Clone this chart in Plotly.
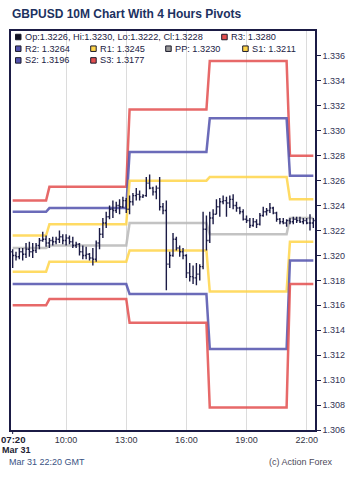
import plotly.graph_objects as go
import pandas as pd

# ---------------- data ----------------
bar_times = pd.date_range("2016-03-31 07:20", "2016-03-31 22:20", freq="10min")

opens = [1.3203, 1.3200, 1.3199, 1.3203, 1.3201, 1.3205, 1.3203, 1.3204, 1.3208, 1.3212,
         1.3213, 1.3210, 1.3212, 1.3211, 1.3213, 1.3215, 1.3212, 1.3214, 1.3211, 1.3208,
         1.3209, 1.3203, 1.3200, 1.3201, 1.3198, 1.3197, 1.3210, 1.3217, 1.3226, 1.3231,
         1.3237, 1.3236, 1.3240, 1.3239, 1.3244, 1.3237, 1.3243, 1.3248, 1.3249, 1.3247,
         1.3248, 1.3258, 1.3254, 1.3251, 1.3254, 1.3239, 1.3236, 1.3193, 1.3200, 1.3213,
         1.3206, 1.3203, 1.3200, 1.3186, 1.3183, 1.3182, 1.3185, 1.3191, 1.3221, 1.3212,
         1.3230, 1.3233, 1.3239, 1.3243, 1.3244, 1.3242, 1.3245, 1.3240, 1.3238, 1.3235,
         1.3229, 1.3228, 1.3224, 1.3227, 1.3225, 1.3232, 1.3235, 1.3236, 1.3238, 1.3234,
         1.3229, 1.3227, 1.3226, 1.3228, 1.3227, 1.3229, 1.3228, 1.3227, 1.3228, 1.3226,
         1.3226]
highs = [1.3205, 1.3203, 1.3206, 1.3206, 1.3210, 1.3211, 1.3210, 1.3210, 1.3214, 1.3219,
         1.3216, 1.3214, 1.3215, 1.3215, 1.3220, 1.3217, 1.3217, 1.3216, 1.3215, 1.3211,
         1.3210, 1.3208, 1.3207, 1.3202, 1.3206, 1.3212, 1.3222, 1.3230, 1.3235, 1.3240,
         1.3244, 1.3243, 1.3245, 1.3247, 1.3246, 1.3248, 1.3250, 1.3254, 1.3252, 1.3249,
         1.3263, 1.3265, 1.3255, 1.3256, 1.3263, 1.3242, 1.3244, 1.3203, 1.3218, 1.3215,
         1.3208, 1.3206, 1.3201, 1.3194, 1.3192, 1.3194, 1.3193, 1.3235, 1.3232, 1.3235,
         1.3237, 1.3245, 1.3246, 1.3248, 1.3247, 1.3248, 1.3249, 1.3243, 1.3239, 1.3237,
         1.3232, 1.3230, 1.3230, 1.3229, 1.3234, 1.3239, 1.3238, 1.3242, 1.3239, 1.3235,
         1.3230, 1.3230, 1.3229, 1.3230, 1.3231, 1.3231, 1.3231, 1.3230, 1.3230, 1.3233,
         1.3230]
lows = [1.3190, 1.3196, 1.3197, 1.3196, 1.3198, 1.3199, 1.3198, 1.3202, 1.3205, 1.3211,
        1.3207, 1.3206, 1.3208, 1.3209, 1.3210, 1.3209, 1.3208, 1.3209, 1.3206, 1.3206,
        1.3200, 1.3197, 1.3197, 1.3196, 1.3192, 1.3195, 1.3205, 1.3214, 1.3222, 1.3229,
        1.3230, 1.3234, 1.3233, 1.3238, 1.3234, 1.3233, 1.3240, 1.3244, 1.3244, 1.3246,
        1.3247, 1.3253, 1.3248, 1.3245, 1.3236, 1.3233, 1.3172, 1.3190, 1.3199, 1.3204,
        1.3199, 1.3197, 1.3182, 1.3179, 1.3177, 1.3176, 1.3180, 1.3189, 1.3204, 1.3210,
        1.3225, 1.3233, 1.3231, 1.3241, 1.3231, 1.3238, 1.3237, 1.3235, 1.3233, 1.3228,
        1.3226, 1.3222, 1.3223, 1.3222, 1.3224, 1.3231, 1.3232, 1.3234, 1.3233, 1.3227,
        1.3225, 1.3225, 1.3223, 1.3225, 1.3225, 1.3226, 1.3226, 1.3225, 1.3225, 1.3220,
        1.3222]
closes = [1.3200, 1.3199, 1.3203, 1.3201, 1.3205, 1.3203, 1.3204, 1.3208, 1.3212, 1.3213,
          1.3210, 1.3212, 1.3211, 1.3213, 1.3215, 1.3212, 1.3214, 1.3211, 1.3208, 1.3209,
          1.3203, 1.3200, 1.3201, 1.3198, 1.3197, 1.3210, 1.3217, 1.3226, 1.3231, 1.3237,
          1.3236, 1.3240, 1.3239, 1.3244, 1.3237, 1.3243, 1.3248, 1.3249, 1.3247, 1.3248,
          1.3258, 1.3254, 1.3251, 1.3254, 1.3239, 1.3236, 1.3193, 1.3200, 1.3213, 1.3206,
          1.3203, 1.3200, 1.3186, 1.3183, 1.3182, 1.3185, 1.3191, 1.3221, 1.3212, 1.3230,
          1.3233, 1.3239, 1.3243, 1.3244, 1.3242, 1.3245, 1.3240, 1.3238, 1.3235, 1.3229,
          1.3228, 1.3224, 1.3227, 1.3225, 1.3232, 1.3235, 1.3236, 1.3238, 1.3234, 1.3229,
          1.3227, 1.3226, 1.3228, 1.3227, 1.3229, 1.3228, 1.3227, 1.3228, 1.3226, 1.3226,
          1.3228]

# 4-hour pivot periods (first bar carrying the new level)
period_starts = ["2016-03-31 07:20", "2016-03-31 09:10", "2016-03-31 13:10",
                 "2016-03-31 17:10", "2016-03-31 21:10"]
pivot_r3 = [1.3244, 1.3255, 1.3317, 1.3356, 1.3280]
pivot_r2 = [1.3235, 1.3238, 1.3283, 1.3310, 1.3264]
pivot_r1 = [1.3216, 1.3225, 1.3260, 1.3263, 1.3245]
pivot_pp = [1.3206, 1.3208, 1.3226, 1.3217, 1.3230]
pivot_s1 = [1.3187, 1.3195, 1.3204, 1.3171, 1.3211]
pivot_s2 = [1.3177, 1.3177, 1.3169, 1.3125, 1.3196]
pivot_s3 = [1.3160, 1.3165, 1.3146, 1.3078, 1.3177]

y_tick_vals = [1.306, 1.308, 1.310, 1.312, 1.314, 1.316, 1.318, 1.320,
               1.322, 1.324, 1.326, 1.328, 1.330, 1.332, 1.334, 1.336]
x_tick_vals = ["2016-03-31 10:00", "2016-03-31 13:00", "2016-03-31 16:00",
               "2016-03-31 19:00", "2016-03-31 22:00"]
x_tick_text = ["10:00", "13:00", "16:00", "19:00", "22:00"]

# ---------------- helpers ----------------
starts = pd.to_datetime(period_starts)


def expand(levels):
    out = []
    for t in bar_times:
        k = sum(1 for s in starts if s <= t) - 1
        out.append(levels[k])
    return out


FONT = "Liberation Sans, Arial, sans-serif"
NAVY = "#1b1b45"
RED = "#e34f4f"
BLUE = "#5252ad"
YEL = "#ffd54a"
GRAY = "#b9b9b9"

L_PX, R_PX, T_PX, B_PX = 11, 315, 31, 430
X_RANGE = ["2016-03-31 07:15", "2016-03-31 22:25"]
Y_RANGE = [1.306, 1.338]


def px_x(p):
    return (p - L_PX) / (R_PX - L_PX)


def px_y(p):
    return (B_PX - p) / (B_PX - T_PX)


fig = go.Figure()

for levels, col in [(pivot_r3, RED), (pivot_r2, BLUE), (pivot_r1, YEL), (pivot_pp, GRAY),
                    (pivot_s1, YEL), (pivot_s2, BLUE), (pivot_s3, RED)]:
    fig.add_trace(go.Scatter(x=bar_times, y=expand(levels), mode="lines",
                             line=dict(color=col, width=2.5), opacity=0.85,
                             hoverinfo="skip", showlegend=False))

# price bars on an overlaid (identical) axis pair so they sit above the pivot lines
fig.add_trace(go.Ohlc(x=bar_times, open=opens, high=highs, low=lows, close=closes,
                      xaxis="x2", yaxis="y2",
                      increasing=dict(line=dict(color=NAVY, width=1.4)),
                      decreasing=dict(line=dict(color=NAVY, width=1.4)),
                      tickwidth=0.4, showlegend=False))

fig.update_layout(
    width=350, height=481,
    margin=dict(l=L_PX, r=350 - R_PX, t=T_PX, b=481 - B_PX, pad=0),
    paper_bgcolor="white", plot_bgcolor="white",
    showlegend=False,
    font=dict(family=FONT, size=9, color="#333344"),
    xaxis=dict(type="date", range=X_RANGE,
               rangeslider=dict(visible=False),
               tickvals=x_tick_vals, ticktext=x_tick_text,
               showgrid=True, gridcolor="#dcdcdc", gridwidth=1,
               showline=True, linecolor=NAVY, linewidth=1.5, mirror=True,
               ticks="", zeroline=False, automargin=False,
               tickfont=dict(size=9, color="#333344")),
    yaxis=dict(side="right", range=Y_RANGE, tickvals=y_tick_vals,
               tickformat=".3f", showgrid=False, zeroline=False,
               showline=True, linecolor=NAVY, linewidth=1.5, mirror=True,
               ticks="outside", ticklen=4, tickcolor=NAVY, tickwidth=1,
               automargin=False, tickfont=dict(size=9, color="#333355")),
    xaxis2=dict(type="date", range=X_RANGE, overlaying="x", matches="x",
                rangeslider=dict(visible=False), visible=False, showgrid=False),
    yaxis2=dict(range=Y_RANGE, overlaying="y", visible=False, showgrid=False,
                zeroline=False),
)

ann = []
# title
ann.append(dict(text="<b>GBPUSD 10M Chart With 4 Hours Pivots</b>", x=px_x(10), y=px_y(14),
                xref="paper", yref="paper", xanchor="left", yanchor="middle",
                showarrow=False, font=dict(family=FONT, size=12, color="#20315f")))

# legend rows (text + squares)
ohlc_text = "Op:%.4f, Hi:%.4f, Lo:%.4f, Cl:%.4f" % (opens[-1], highs[-1], lows[-1], closes[-1])
legend_items = [
    (15.5, 37, "#111122", ohlc_text),
    (221.7, 37, RED, "R3: %.4f" % pivot_r3[-1]),
    (15.5, 48.7, BLUE, "R2: %.4f" % pivot_r2[-1]),
    (90.7, 48.7, YEL, "R1: %.4f" % pivot_r1[-1]),
    (165.7, 48.7, "#999999", "PP: %.4f" % pivot_pp[-1]),
    (242.7, 48.7, YEL, "S1: %.4f" % pivot_s1[-1]),
    (15.5, 60.4, BLUE, "S2: %.4f" % pivot_s2[-1]),
    (90.7, 60.4, RED, "S3: %.4f" % pivot_s3[-1]),
]
shapes = []
for sx, sy, col, txt in legend_items:
    shapes.append(dict(type="rect", xref="paper", yref="paper",
                       x0=px_x(sx), x1=px_x(sx + 5.5), y0=px_y(sy + 2.75), y1=px_y(sy - 2.75),
                       fillcolor=col, line=dict(color="#1a1a2a", width=1)))
    ann.append(dict(text=txt, x=px_x(sx + 7), y=px_y(sy), xref="paper", yref="paper",
                    xanchor="left", yanchor="middle", showarrow=False,
                    font=dict(family=FONT, size=9.2, color="#222244")))

# first x label (bold, with date)
ann.append(dict(text="<b>07:20</b>", x=px_x(27.5), y=px_y(439), xref="paper", yref="paper",
                xanchor="right", yanchor="middle", showarrow=False,
                font=dict(family=FONT, size=9.6, color="#222233")))
ann.append(dict(text="<b>Mar 31</b>", x=px_x(0), y=px_y(449.5), xref="paper", yref="paper",
                xanchor="left", yanchor="middle", showarrow=False,
                font=dict(family=FONT, size=9, color="#222233")))
shapes.append(dict(type="line", xref="x", yref="paper", x0=bar_times[0], x1=bar_times[0],
                   y0=0, y1=px_y(434), line=dict(color=NAVY, width=1)))

# footer
ann.append(dict(text="Mar 31 22:20 GMT", x=px_x(7.3), y=px_y(461.7), xref="paper", yref="paper",
                xanchor="left", yanchor="middle", showarrow=False,
                font=dict(family=FONT, size=9, color="#3a5384")))
ann.append(dict(text="(c) Action Forex", x=px_x(335), y=px_y(461.7), xref="paper", yref="paper",
                xanchor="right", yanchor="middle", showarrow=False,
                font=dict(family=FONT, size=9, color="#4d4a5a")))

fig.update_layout(annotations=ann, shapes=shapes)
fig.write_html("out.html")
